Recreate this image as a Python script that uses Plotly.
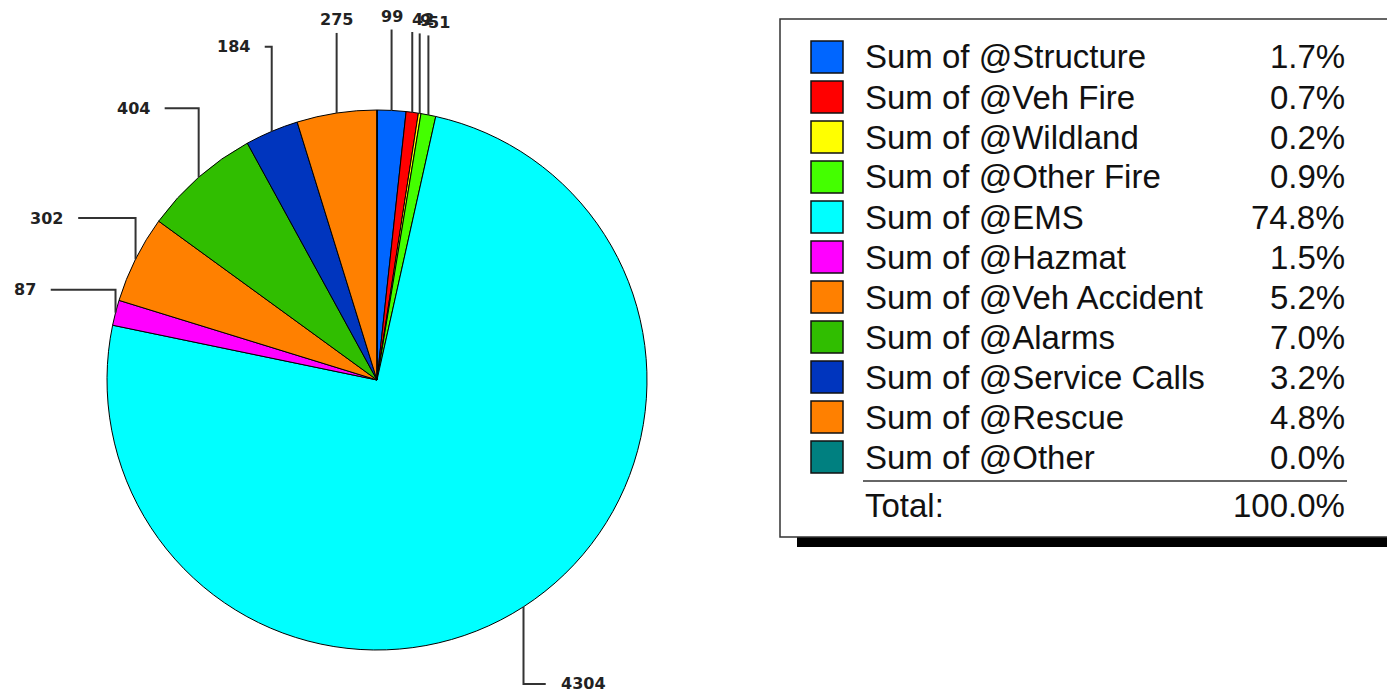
import math

import plotly.graph_objects as go

CATEGORIES = [
    "Structure", "Veh Fire", "Wildland", "Other Fire", "EMS", "Hazmat",
    "Veh Accident", "Alarms", "Service Calls", "Rescue", "Other",
]
COUNTS = [99, 42, 9, 51, 4304, 87, 302, 404, 184, 275, 0]
COLORS = [
    "#0066FF", "#FF0000", "#FFFF00", "#44FF00", "#00FFFF", "#FF00FF",
    "#FF8000", "#30BE00", "#0035BE", "#FF8000", "#008080",
]

# the page body has an 8px margin, so layout positions are given in window
# pixels and shifted back by OFF when mapped into the figure
OFF = 8
W, H = 1395 - OFF, 695 - OFF
CX, CY, R = 377, 380, 270
LINE = "#333333"
LABEL_FONT = {"family": "DejaVu Sans", "size": 16, "color": "#222222"}
LEGEND_FONT = {"family": "Liberation Sans, Arial", "size": 33, "color": "#111111"}


def px(x):
    return (x - OFF) / W


def py(y):
    return 1 - (y - OFF) / H


fig = go.Figure(
    go.Pie(
        labels=["Sum of @" + c for c in CATEGORIES],
        values=COUNTS,
        marker={"colors": COLORS, "line": {"color": "#000000", "width": 1}},
        sort=False,
        direction="clockwise",
        rotation=0,
        textinfo="none",
        hovertemplate="%{label}<br>%{value} (%{percent})<extra></extra>",
        domain={"x": [px(CX - R), px(CX + R)], "y": [py(CY + R), py(CY - R)]},
        showlegend=False,
    )
)

shapes = []
annotations = []

# leader lines with elbow, computed from each slice's mid angle
total = sum(COUNTS)
cum = 0
for value in COUNTS:
    if value == 0:
        continue
    ang = (cum + value / 2) / total * 2 * math.pi
    cum += value
    s, c = math.sin(ang), math.cos(ang)
    xe, ye = CX + R * s, CY - R * c
    sign = 1 if s > 0 else -1
    if abs(s) > 0.32:
        yh = CY - 1.34 * R * c
        xend = xe + sign * 0.37 * R * (abs(s) - 0.32)
        path = "M {} {} L {} {} L {} {}".format(
            px(xe), py(ye), px(xe), py(yh), px(xend), py(yh)
        )
        annotations.append(dict(
            x=px(xend + sign * 13), y=py(yh), text="<b>{}</b>".format(value),
            xanchor="left" if sign > 0 else "right", yanchor="middle",
        ))
    else:
        yh = CY - 1.30 * R * c
        path = "M {} {} L {} {}".format(px(xe), py(ye), px(xe), py(yh))
        if s > 0.06:
            tx, anchor = xe - 2, "left"
        else:
            tx, anchor = xe, "center"
        annotations.append(dict(
            x=px(tx), y=py(yh - 13), text="<b>{}</b>".format(value),
            xanchor=anchor, yanchor="middle",
        ))
    shapes.append(dict(type="path", path=path, xref="paper", yref="paper",
                       line={"color": LINE, "width": 2}))

for a in annotations:
    a.update(xref="paper", yref="paper", showarrow=False, font=LABEL_FONT)

# legend box with shadow
shapes.append(dict(type="rect", xref="paper", yref="paper",
                   x0=px(797), x1=px(1400), y0=py(547), y1=py(32),
                   fillcolor="#000000", line={"width": 0}))
shapes.append(dict(type="rect", xref="paper", yref="paper",
                   x0=px(780), x1=px(1390), y0=py(537), y1=py(19),
                   fillcolor="#FFFFFF", line={"color": "#333333", "width": 1.5}))

for i, (name, value, color) in enumerate(zip(CATEGORIES, COUNTS, COLORS)):
    yc = 57 + 40 * i
    shapes.append(dict(type="rect", xref="paper", yref="paper",
                       x0=px(811), x1=px(843), y0=py(yc + 16), y1=py(yc - 16),
                       fillcolor=color, line={"color": "#111111", "width": 1.5}))
    annotations.append(dict(x=px(863), y=py(yc), text="Sum of @" + name,
                            xanchor="left", yanchor="middle"))
    annotations.append(dict(x=px(1347), y=py(yc),
                            text="{:.1f}%".format(value / total * 100),
                            xanchor="right", yanchor="middle"))

shapes.append(dict(type="line", xref="paper", yref="paper",
                   x0=px(863), x1=px(1347), y0=py(481), y1=py(481),
                   line={"color": "#333333", "width": 1.5}))
annotations.append(dict(x=px(863), y=py(505), text="Total:",
                        xanchor="left", yanchor="middle"))
annotations.append(dict(x=px(1347), y=py(505), text="100.0%",
                        xanchor="right", yanchor="middle"))

for a in annotations:
    a.setdefault("xref", "paper")
    a.setdefault("yref", "paper")
    a.setdefault("showarrow", False)
    a.setdefault("font", LEGEND_FONT)

fig.update_layout(
    width=W,
    height=H,
    margin={"l": 0, "r": 0, "t": 0, "b": 0},
    paper_bgcolor="#FFFFFF",
    plot_bgcolor="#FFFFFF",
    shapes=shapes,
    annotations=annotations,
)

fig.write_html("out.html")
